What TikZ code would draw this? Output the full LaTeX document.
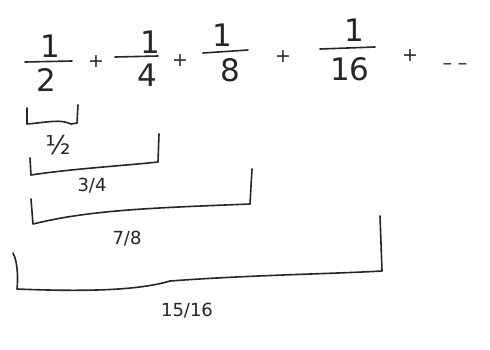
\documentclass[tikz,border=0pt]{standalone}
\usepackage{fontspec}
\setmainfont{DejaVu Sans}
\begin{document}
\begin{tikzpicture}[x=1pt,y=-1pt,
  ink/.style={line width=1.6pt,line cap=round,line join=round,draw=black!85},
  num/.style={font=\fontsize{31}{31}\selectfont\color{black!85},inner sep=0pt},
  sym/.style={font=\fontsize{19}{19}\selectfont\color{black!85},inner sep=0pt},
  lab/.style={font=\fontsize{18}{18}\selectfont\color{black!85},inner sep=0pt}]
\useasboundingbox[fill=white] (0,0) rectangle (490,349);
% fractions
\node[num] (n1) at (50,46) {1};
\node[num] (d1) at (46,80) {2};
\draw[ink] (25,62) -- (72,61);
\node[sym] (p1) at (96,62) {+};
\node[num] (n2) at (150,42) {1};
\node[num] (d2) at (147,75) {4};
\draw[ink] (115,57) -- (158,56);
\node[sym] (p2) at (180,61) {+};
\node[num] (n3) at (222,35) {1};
\node[num] (d3) at (230,70) {8};
\draw[ink] (203,53) -- (248,50);
\node[sym] (p3) at (283,57) {+};
\node[num] (n4) at (354,30) {1};
\node[num] (d4) at (350,69) {16};
\draw[ink] (320,49) -- (375,47);
\node[sym] (p4) at (410,56) {+};
\node[sym] (dots) at (455,67) {–\hspace{6pt}–};
% brackets
\draw[ink] (27,108) -- (27,124) .. controls (50,122) and (60,119) .. (71,124) -- (77,123) -- (78,105);
\node[lab,font=\fontsize{26}{26}\selectfont\color{black!85}] (l1) at (58,145) {½};
\draw[ink] (30,158) -- (31,175) .. controls (70,169) and (120,166) .. (158,162) -- (159,134);
\node[lab] (l2) at (92,186) {3/4};
\draw[ink] (31,199) -- (33,224) .. controls (90,210) and (150,208) .. (250,204) -- (252,169);
\node[lab] (l3) at (127,239) {7/8};
\draw[ink] (13,253) .. controls (18,262) and (18,280) .. (17,289) .. controls (90,292) and (140,290) .. (170,281) .. controls (250,275) and (330,274) .. (382,271) -- (380,216);
\node[lab] (l4) at (187,311) {15/16};
\end{tikzpicture}
\end{document}
